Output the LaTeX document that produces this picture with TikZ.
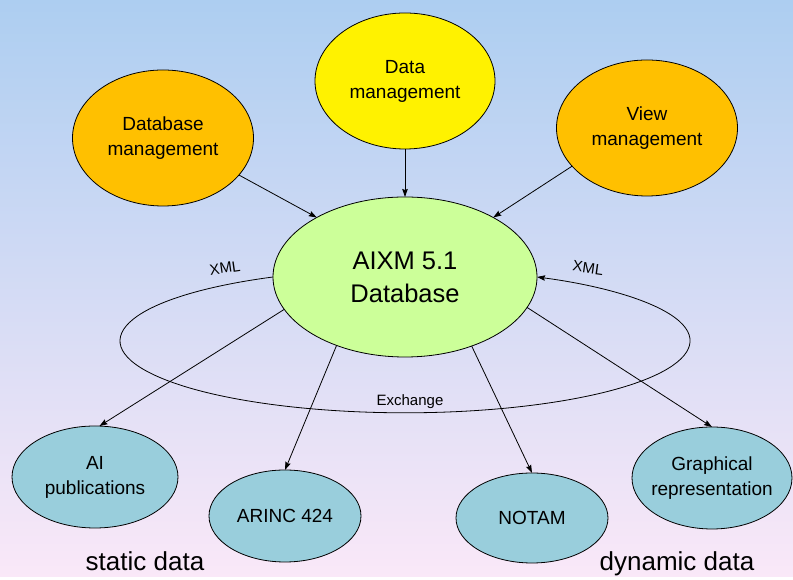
\documentclass[tikz,border=0pt]{standalone}
\usepackage{fontspec}
\setmainfont{Liberation Sans}
\usetikzlibrary{shapes.geometric,arrows.meta,positioning}

\definecolor{skytop}{RGB}{173,206,241}
\definecolor{pinkbot}{RGB}{250,232,248}
\definecolor{mgmtorange}{RGB}{255,192,0}
\definecolor{dbgreen}{RGB}{204,255,153}
\definecolor{outteal}{RGB}{153,206,220}

\begin{document}
\begin{tikzpicture}[->,>={Stealth[length=8pt,width=5.5pt,inset=1pt]},x=1pt,y=1pt,line width=0.8pt]
		\tikzstyle{blob}=[ellipse,draw=black,text=black,align=center,inner sep=0pt,outer sep=0pt,font=\fontsize{19}{25}\selectfont]
		\tikzstyle{mgmt}=[blob,fill=mgmtorange,minimum width=181pt,minimum height=136pt]
		\tikzstyle{product}=[blob,fill=outteal]
		\tikzstyle{tag}=[font=\fontsize{15}{18}\selectfont]
		\tikzstyle{kind}=[anchor=base,font=\fontsize{26}{30}\selectfont]
		\shade[top color=skytop,bottom color=pinkbot] (0,0) rectangle (793,577);
		\node[blob]    (db) at (405,300)[fill=dbgreen,minimum width=264pt,minimum height=160pt,font=\fontsize{25.5}{33}\selectfont]    {AIXM 5.1\\Database};
		\node[blob]    (datam)[above of=db, node distance=196pt,fill=yellow,minimum width=180pt,minimum height=136pt]    {Data\\management};
		\node[mgmt]    (dbm) at (163,439)    {Database\\management};
		\node[mgmt]    (viewm) at (647,449)    {View\\management};
		\node[product] (aipub) at (95,100)[minimum width=166pt,minimum height=102pt]    {AI\\publications};
		\node[product] (arinc) at (285,61)[minimum width=152pt,minimum height=92pt]    {ARINC 424};
		\node[product] (notam) at (532,59)[minimum width=152pt,minimum height=90pt]    {NOTAM};
		\node[product] (graph) at (712,99)[minimum width=160pt,minimum height=102pt,inner xsep=-5pt]    {Graphical\\representation};
		\node[tag,rotate=8]    (xmlin) at (225,309)    {XML};
		\node[tag,rotate=-8]   (xmlout) at (588,309)    {XML};
		\node[tag]    (exch) at (410,175)    {Exchange};
		\node[kind]    (static) at (145,6)    {static data};
		\node[kind]    (dynamic) at (677,6)    {dynamic data};
		\path
		(dbm.334) edge (db.146)
		(datam) edge (db)
		(viewm.207) edge (db.34)
		(db.195) edge (aipub.85)
		(db.225) edge (arinc.north)
		(db.314) edge (notam.north)
		(db.346) edge (graph.north);
		\draw (db.west) arc[start angle=117.6,end angle=422.4,x radius=285pt,y radius=72pt];
	\end{tikzpicture}
\end{document}
